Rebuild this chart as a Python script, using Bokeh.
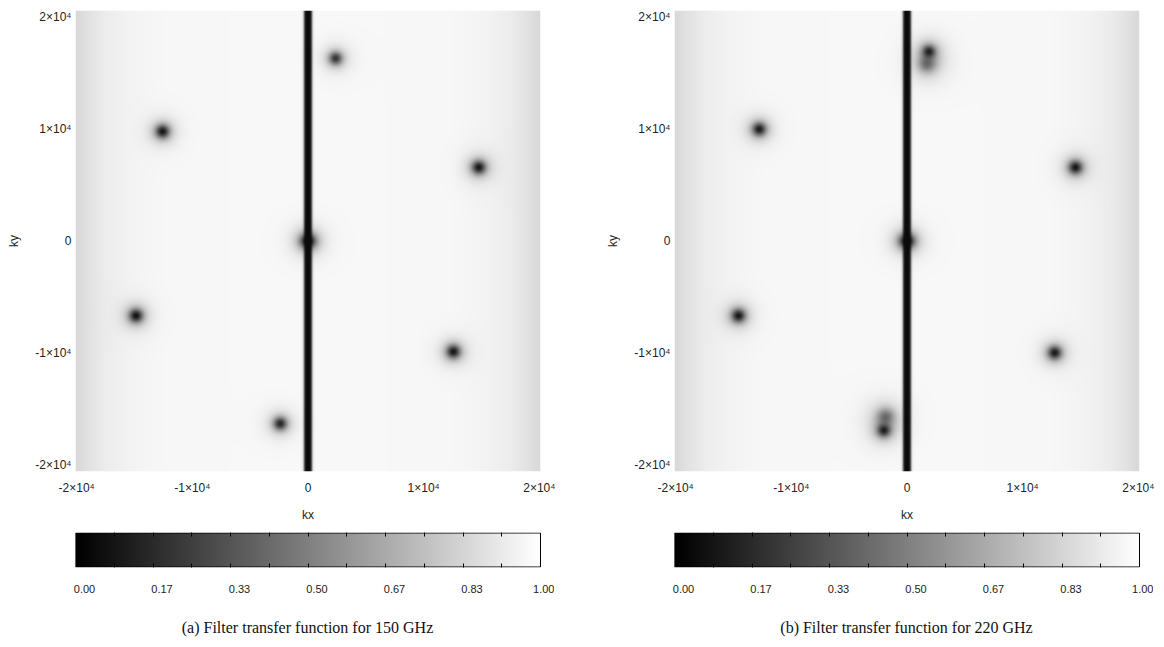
import numpy as np
from bokeh.plotting import figure
from bokeh.models import (LinearColorMapper, FixedTicker, LinearAxis, Range1d, Div)
from bokeh.layouts import row, column
from bokeh.embed import file_html
from bokeh.resources import INLINE

# ---------------- data ----------------
k_ticks = [-20000, -10000, 0, 10000, 20000]
k_tick_labels = ["-2×10⁴", "-1×10⁴", "0", "1×10⁴", "2×10⁴"]

cb_ticks = [0.0, 1 / 6, 2 / 6, 3 / 6, 4 / 6, 5 / 6, 1.0]
cb_tick_labels = ["0.00", "0.17", "0.33", "0.50", "0.67", "0.83", "1.00"]
cb_marks = [1 / 12, 2 / 12, 3 / 12, 4 / 12, 5 / 12, 6 / 12,
            7 / 12, 8 / 12, 9 / 12, 10 / 12, 11 / 12]

captions = ["(a) Filter transfer function for 150 GHz",
            "(b) Filter transfer function for 220 GHz"]

kx_extent = (-20100, 20100)
ky_extent = (-20620, 20620)

# background brightness across kx (darker near the edges)
bg_kx = [-20100, -19000, -17500, -15500, -12500, 0, 12500, 15500, 17500, 19000, 20100]
bg_val = [0.845, 0.885, 0.925, 0.950, 0.966, 0.972, 0.966, 0.950, 0.925, 0.885, 0.845]

# vertical notch along kx = 0
stripe_halfwidth = 340
stripe_level = 0.04

# 150 GHz notches
spots150_kx = [0, 2400, -12600, 14800, -14900, 12600, -2400]
spots150_ky = [0, 16400, 9800, 6600, -6700, -9900, -16400]
spots150_depth = [1.0, 0.72, 0.88, 0.88, 0.90, 0.88, 0.80]
spots150_sigma = [450, 380, 390, 390, 390, 390, 380]

# 220 GHz notches
spots220_kx = [0, 1900, 1750, -12800, 14600, -14600, 12800, -2000, -1850]
spots220_ky = [0, 17000, 15900, 10000, 6600, -6700, -10000, -17000, -15800]
spots220_depth = [1.0, 0.80, 0.45, 0.85, 0.88, 0.88, 0.86, 0.82, 0.45]
spots220_sigma = [450, 380, 520, 390, 390, 390, 390, 380, 520]

soft_depth = 0.30      # softer shoulder around each notch
halo_depth = 0.04      # faint wide halo

# ---------------- build images ----------------
NX, NY = 465, 464
kx_axis = np.linspace(kx_extent[0], kx_extent[1], NX)
ky_axis = np.linspace(ky_extent[0], ky_extent[1], NY)
KX, KY = np.meshgrid(kx_axis, ky_axis)


def transfer_image(sk, sy, sd, ss):
    img = np.interp(KX, bg_kx, bg_val)
    for x0, y0, d, s in zip(sk, sy, sd, ss):
        r2 = (KX - x0) ** 2 + (KY - y0) ** 2
        img = img * (1 - d * np.exp(-r2 / (2 * s * s)))
        img = img * (1 - soft_depth * d * np.exp(-r2 / (2 * (1.9 * s) ** 2)))
        img = img * (1 - halo_depth * np.exp(-r2 / (2 * (3.5 * s) ** 2)))
    stripe = 1.0 / (1.0 + np.exp((np.abs(KX) - stripe_halfwidth) / 50.0))
    img = img * (1 - stripe) + stripe_level * stripe
    return img


img150 = transfer_image(spots150_kx, spots150_ky, spots150_depth, spots150_sigma)
img220 = transfer_image(spots220_kx, spots220_ky, spots220_depth, spots220_sigma)

palette = ["#%02x%02x%02x" % (i, i, i) for i in range(256)]
mapper = LinearColorMapper(palette=palette, low=0.0, high=1.0)

TICK_FONT = "Liberation Sans"
TEXT_COLOR = "#222222"


def main_fig(img, width, bl, br):
    p = figure(width=width, height=524, output_backend="svg", toolbar_location=None,
               x_range=Range1d(*kx_extent), y_range=Range1d(*ky_extent),
               min_border_left=bl, min_border_right=br, min_border_top=10,
               min_border_bottom=50)
    p.image(image=[img], x=kx_extent[0], y=ky_extent[0],
            dw=kx_extent[1] - kx_extent[0], dh=ky_extent[1] - ky_extent[0],
            color_mapper=mapper)
    p.grid.visible = False
    p.outline_line_color = None
    overrides = dict(zip(k_ticks, k_tick_labels))
    for ax in (p.xaxis[0], p.yaxis[0]):
        ax.ticker = FixedTicker(ticks=k_ticks, minor_ticks=[])
        ax.major_label_overrides = overrides
        ax.axis_line_color = None
        ax.major_tick_in = 0
        ax.major_tick_out = 0
        ax.minor_tick_in = 0
        ax.minor_tick_out = 0
        ax.major_label_text_font = TICK_FONT
        ax.major_label_text_font_size = "12px"
        ax.major_label_text_color = TEXT_COLOR
        ax.axis_label_text_font = TICK_FONT
        ax.axis_label_text_font_size = "12px"
        ax.axis_label_text_font_style = "normal"
        ax.axis_label_text_color = TEXT_COLOR
    p.xaxis.axis_label = "kx"
    p.yaxis.axis_label = "ky"
    p.xaxis.major_label_standoff = 9
    p.xaxis.axis_label_standoff = 10
    p.yaxis.major_label_standoff = 4
    p.yaxis.axis_label_standoff = 11
    p.yaxis.major_label_orientation = "horizontal"
    return p


def colorbar_fig(width, bl, br):
    bar_w = width - bl - br          # pixel width of the bar itself
    extra = 14                       # frame runs a little past the bar's right end
    x_end = (bar_w + extra) / bar_w
    c = figure(frame_width=bar_w + extra, frame_height=35,
               output_backend="svg", toolbar_location=None,
               x_range=Range1d(0, x_end), y_range=Range1d(-0.015, 1.015),
               x_axis_type=None, y_axis_type=None,
               min_border_left=bl, min_border_right=0, min_border_top=8,
               min_border_bottom=30)
    grad = np.array([np.linspace(0.0, 1.0, 256)])
    c.image(image=[grad], x=0, y=0, dw=1, dh=1, color_mapper=mapper)
    c.quad(left=0, right=1, bottom=0, top=1, fill_color=None,
           line_color="black", line_width=1)
    c.grid.visible = False
    c.outline_line_color = None
    for side in ("above", "below"):
        ax = LinearAxis(ticker=FixedTicker(ticks=[], minor_ticks=cb_marks),
                        axis_line_color=None, major_tick_in=0, major_tick_out=0,
                        minor_tick_in=4, minor_tick_out=0,
                        minor_tick_line_color="black")
        c.add_layout(ax, side)
    # tick labels sit a few pixels right of their tick positions, as in the reference
    shift = 9.0 / bar_w
    c.extra_x_ranges = {"lab": Range1d(-shift, x_end - shift)}
    lab = LinearAxis(x_range_name="lab", ticker=FixedTicker(ticks=cb_ticks, minor_ticks=[]),
                     axis_line_color=None, major_tick_in=0, major_tick_out=0,
                     minor_tick_in=0, minor_tick_out=0,
                     major_label_overrides=dict(zip(cb_ticks, cb_tick_labels)),
                     major_label_text_font=TICK_FONT, major_label_text_font_size="11px",
                     major_label_text_color=TEXT_COLOR, major_label_standoff=17)
    c.add_layout(lab, "below")
    return c


def caption_div(text, width, bl, br):
    frame_w = width - bl - br
    html = ('<div style="width:%dpx;margin-left:%dpx;text-align:center;'
            'font-family:\'Liberation Serif\',serif;font-size:16px;color:#111;'
            'padding-top:20px;">%s</div>' % (frame_w, bl, text))
    return Div(text=html, width=width, height=50, margin=0)


WL, BLL, BRL = 580, 75, 40
WR, BLR, BRR = 584, 94, 25

left = column(main_fig(img150, WL, BLL, BRL), colorbar_fig(WL, BLL, BRL),
              caption_div(captions[0], WL, BLL, BRL), spacing=0)
right = column(main_fig(img220, WR, BLR, BRR), colorbar_fig(WR, BLR, BRR),
               caption_div(captions[1], WR, BLR, BRR), spacing=0)
p = row(left, right, spacing=0)

open("out.html", "w").write(file_html(p, INLINE))
